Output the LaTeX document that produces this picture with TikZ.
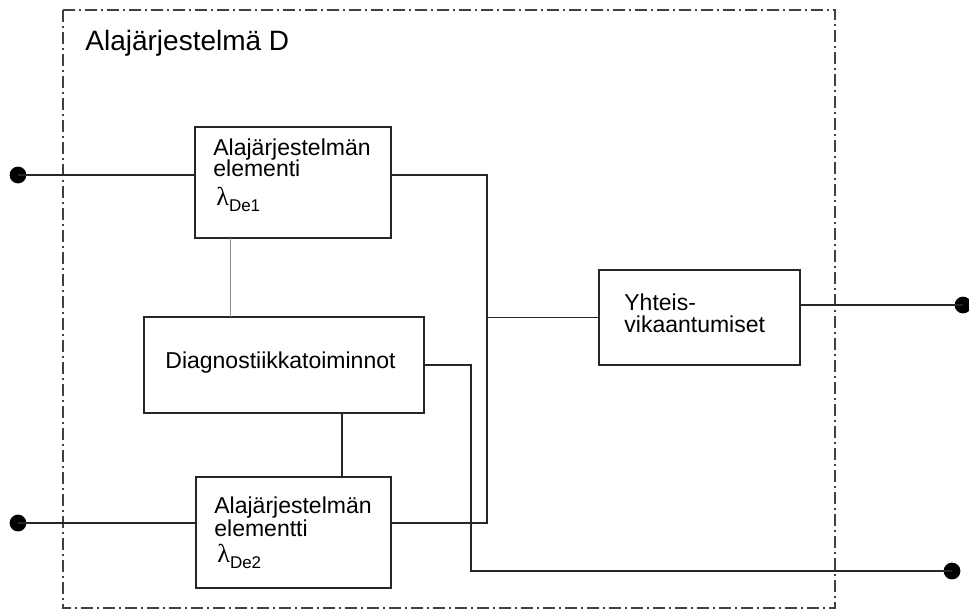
\documentclass[tikz,border=0pt]{standalone}
\usepackage{fontspec}
\setmainfont{Liberation Sans}
\newfontfamily\greekfont{Liberation Serif}
\begin{document}
\begin{tikzpicture}[x=0.5pt,y=-0.5pt,
  blockbox/.style={draw=black!85, line width=0.9pt, inner sep=0pt, outer sep=0pt},
  wire/.style={draw=black!85, line width=0.8pt},
  thinwire/.style={draw=black!45, line width=0.4pt},
  frame/.style={draw=black!75, line width=0.65pt,
    dash pattern=on 6pt off 2.2pt on 0.6pt off 2.2pt},
  terminal/.style={circle, fill=black, inner sep=0pt, minimum size=8.4pt},
  txt/.style={anchor=base west, inner sep=0pt, font=\fontsize{11.5}{10.5}\selectfont},
  lam/.style={font=\fontsize{13}{13}\selectfont}]
\useasboundingbox (0,0) rectangle (969,611);

% subsystem boundary
\draw[frame] (63,10) rectangle (835,608);
\node[anchor=base west, inner sep=0pt, font=\fontsize{14}{14}\selectfont] (title) at (85,50) {Alajärjestelmä D};

% blocks
\node[blockbox, minimum width=98pt, minimum height=55.5pt] (e1) at (293,182.5) {};
\node[blockbox, minimum width=140pt, minimum height=48pt] (dg) at (284,365) {};
\node[blockbox, minimum width=97.5pt, minimum height=55.5pt] (e2) at (293.5,532.5) {};
\node[blockbox, minimum width=100.5pt, minimum height=47.5pt] (yh) at (699.5,317.5) {};

% block texts
\node[txt] (e1a) at (213,155) {Alajärjestelmän};
\node[txt] (e1b) at (213,176) {elementi};
\node[txt] (e1c) at (216,205) {{\greekfont\fontsize{13}{13}\selectfont λ}\raisebox{-3pt}{\fontsize{8.5}{8.5}\selectfont De1}};
\node[txt] (dga) at (165,368) {Diagnostiikkatoiminnot};
\node[txt] (e2a) at (214,513) {Alajärjestelmän};
\node[txt] (e2b) at (214,536) {elementti};
\node[txt] (e2c) at (217,562) {{\greekfont\fontsize{13}{13}\selectfont λ}\raisebox{-3pt}{\fontsize{8.5}{8.5}\selectfont De2}};
\node[txt] (yha) at (624,310) {Yhteis-};
\node[txt] (yhb) at (624,332) {vikaantumiset};

% terminals
\node[terminal] (in1) at (18,175) {};
\node[terminal] (in2) at (18,523) {};
\node[terminal] (out1) at (963,305) {};
\node[terminal] (out2) at (952,571) {};

% bus and routing points
\coordinate (j1) at (487,175);
\coordinate (j2) at (487,523);
\coordinate (jm) at (487,317.5);
\coordinate (d1) at (471,365);
\coordinate (d2) at (471,571);

% connectors
\draw[wire] (in1.center) -- (in1 -| e1.west);
\draw[wire] (in2.center) -- (in2 -| e2.west);
\draw[wire] (in1 -| e1.east) -- (j1) -- (j2) -- (in2 -| e2.east);
\draw[wire] (jm) -- (yh.west);
\draw[wire] (out1 -| yh.east) -- (out1.center);
\draw[wire] (dg.east) -- (d1) -- (d2) -- (out2.center);
\draw[thinwire] (e1.south -| 230,0) -- (dg.north -| 230,0);
\draw[wire] (dg.south -| 342,0) -- (e2.north -| 342,0);
\end{tikzpicture}
\end{document}
